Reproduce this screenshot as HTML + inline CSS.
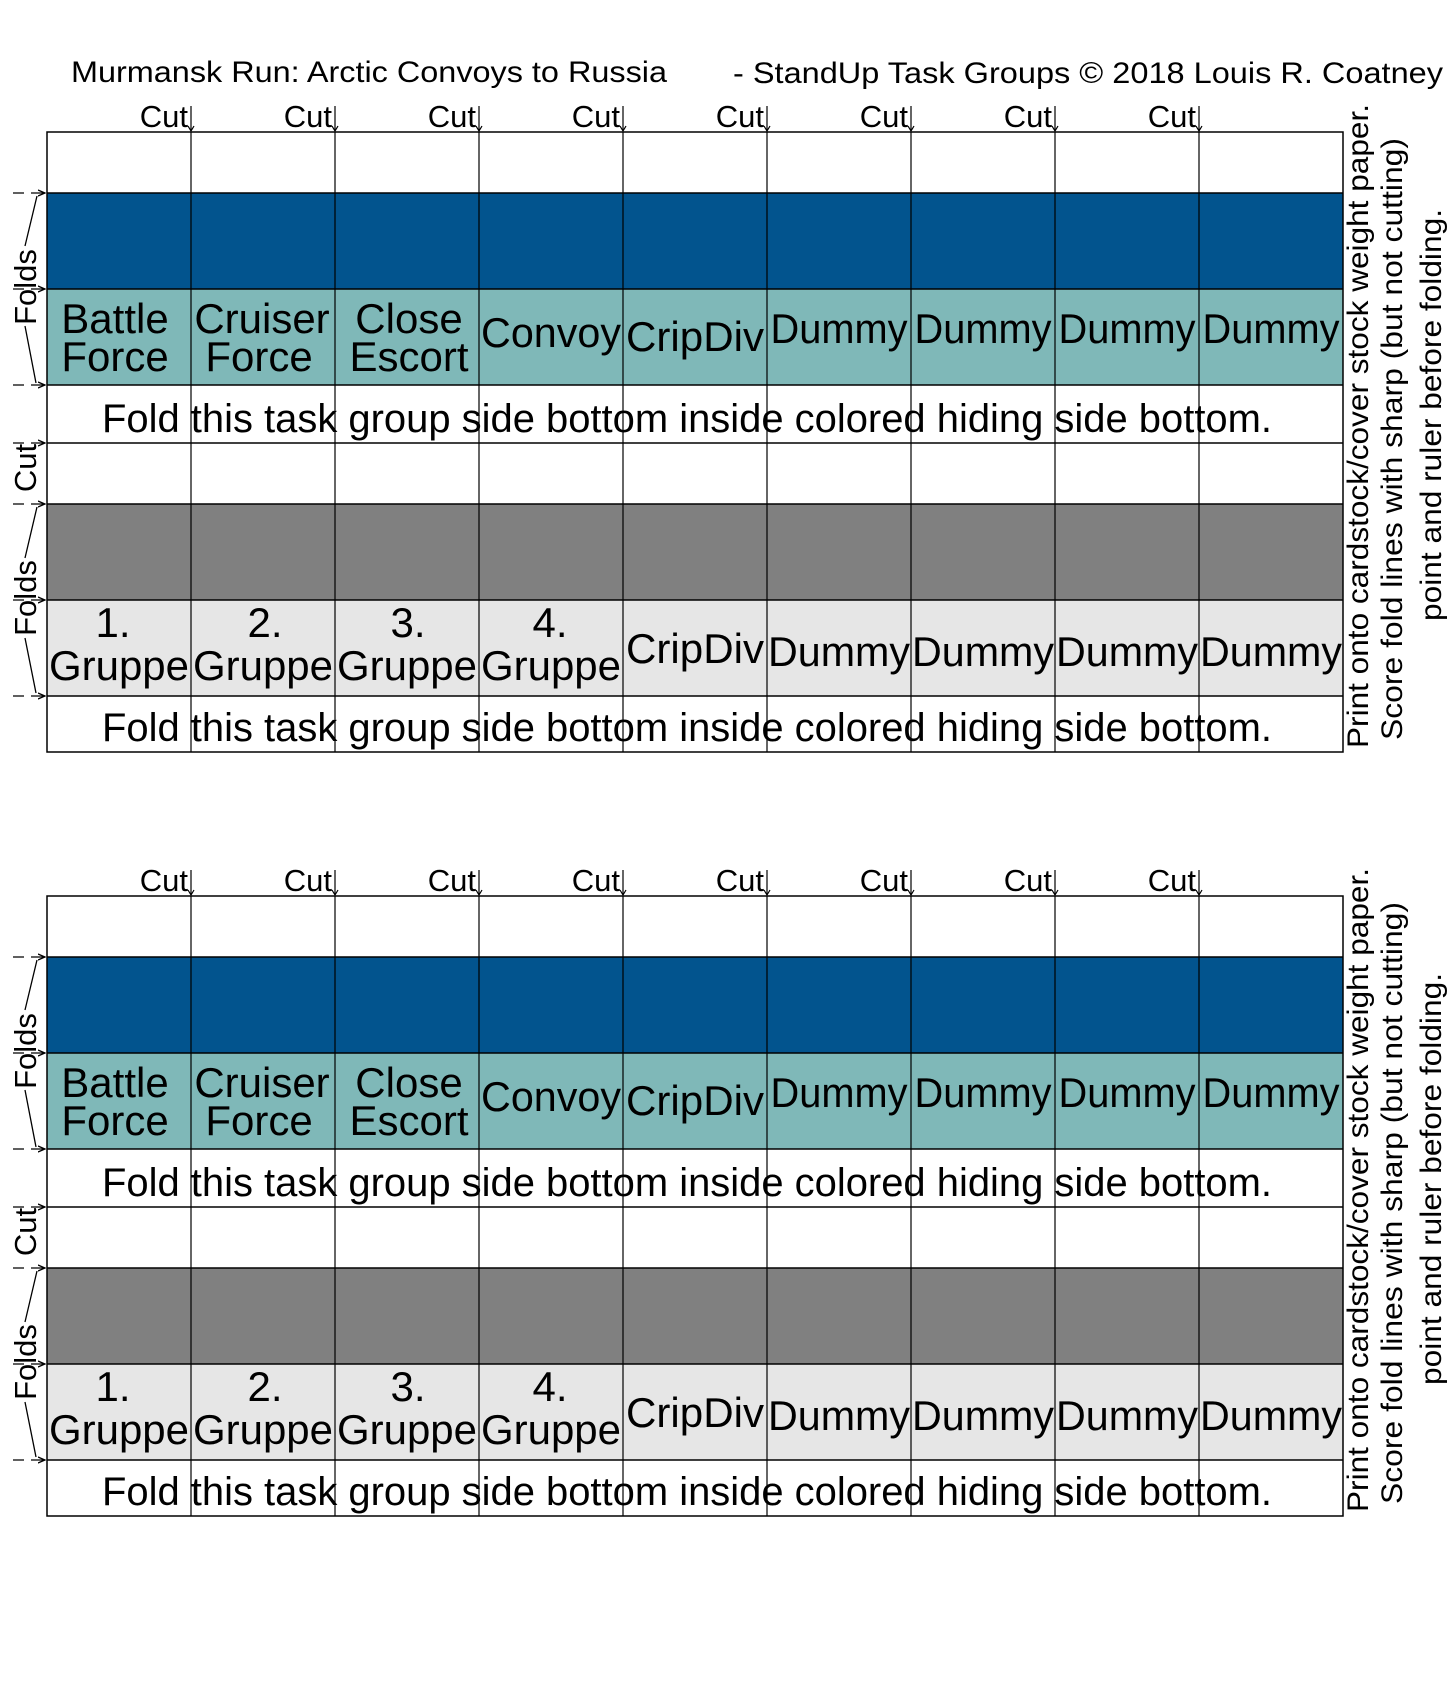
<!DOCTYPE html>
<html><head><meta charset="utf-8"><style>
html,body{margin:0;padding:0;background:#fff}
svg{display:block}
text{font-family:"Liberation Sans",sans-serif;fill:#000}
</style></head><body>
<svg width="1451" height="1688" viewBox="0 0 1451 1688" xmlns="http://www.w3.org/2000/svg">
<defs>
<marker id="ar" markerWidth="8" markerHeight="8" refX="7" refY="4" orient="auto" markerUnits="userSpaceOnUse"><path d="M0,1 L7,4 L0,7" fill="none" stroke="#000" stroke-width="1.3"/></marker>
<g id="tbl">
  <rect x="47" y="193" width="1296" height="96" fill="#02548e"/>
  <rect x="47" y="289" width="1296" height="96" fill="#7fb8b8"/>
  <rect x="47" y="504" width="1296" height="96" fill="#808080"/>
  <rect x="47" y="600" width="1296" height="96" fill="#e6e6e6"/>
  <g stroke="#000" stroke-width="1.5" fill="none">
    <rect x="47" y="132" width="1296" height="620"/>
    <path d="M47 193H1343M47 289H1343M47 385H1343M47 443H1343M47 504H1343M47 600H1343M47 696H1343"/>
    <path d="M191 132V752M335 132V752M479 132V752M623 132V752M767 132V752M911 132V752M1055 132V752M1199 132V752" stroke-width="1.2"/>
  </g>
  <g font-size="31" text-anchor="end">
    <text x="188" y="127">Cut</text><text x="332" y="127">Cut</text><text x="476" y="127">Cut</text><text x="620" y="127">Cut</text><text x="764" y="127">Cut</text><text x="908" y="127">Cut</text><text x="1052" y="127">Cut</text><text x="1196" y="127">Cut</text>
  </g>
  <g stroke="#000" stroke-width="1.2">
    <path d="M191 106V131M335 106V131M479 106V131M623 106V131M767 106V131M911 106V131M1055 106V131M1199 106V131"/>
    <path d="M188 126L191 131L194 126M332 126L335 131L338 126M476 126L479 131L482 126M620 126L623 131L626 126M764 126L767 131L770 126M908 126L911 131L914 126M1052 126L1055 131L1058 126M1196 126L1199 131L1202 126" fill="none"/>
  </g>
  <g stroke="#000" stroke-width="1.3" fill="none">
    <path d="M13 193H24M31 193H45" marker-end="url(#ar)"/>
    <path d="M13 289H24M31 289H45" marker-end="url(#ar)"/>
    <path d="M13 385H24M31 385H45" marker-end="url(#ar)"/>
    <path d="M13 443H24M31 443H45" marker-end="url(#ar)"/>
    <path d="M13 504H24M31 504H45" marker-end="url(#ar)"/>
    <path d="M13 600H24M31 600H45" marker-end="url(#ar)"/>
    <path d="M13 696H24M31 696H45" marker-end="url(#ar)"/>
    <path d="M37 196L25 246M25 326L36 383"/>
    <path d="M37 507L25 558M25 638L36 693"/>
  </g>
  <g font-size="31" text-anchor="middle">
    <text transform="translate(36,287) rotate(-90)">Folds</text>
    <text transform="translate(36,468) rotate(-90)">Cut</text>
    <text transform="translate(36,598) rotate(-90)">Folds</text>
  </g>
  <g font-size="42" text-anchor="middle">
    <text x="115" y="333">Battle</text><text x="115" y="371">Force</text>
    <text x="262" y="333">Cruiser</text><text x="259" y="371">Force</text>
    <text x="409" y="333">Close</text><text x="409" y="371">Escort</text>
    <text x="551" y="347" textLength="140" lengthAdjust="spacingAndGlyphs">Convoy</text>
    <text x="695" y="351" textLength="138" lengthAdjust="spacingAndGlyphs">CripDiv</text>
    <text x="839" y="343" textLength="137" lengthAdjust="spacingAndGlyphs">Dummy</text>
    <text x="983" y="343" textLength="137" lengthAdjust="spacingAndGlyphs">Dummy</text>
    <text x="1127" y="343" textLength="137" lengthAdjust="spacingAndGlyphs">Dummy</text>
    <text x="1271" y="343" textLength="137" lengthAdjust="spacingAndGlyphs">Dummy</text>
    <text x="113" y="637">1.</text><text x="265" y="637">2.</text><text x="408" y="637">3.</text><text x="550" y="637">4.</text>
    <text x="119" y="680" textLength="140" lengthAdjust="spacingAndGlyphs">Gruppe</text>
    <text x="263" y="680" textLength="140" lengthAdjust="spacingAndGlyphs">Gruppe</text>
    <text x="407" y="680" textLength="140" lengthAdjust="spacingAndGlyphs">Gruppe</text>
    <text x="551" y="680" textLength="140" lengthAdjust="spacingAndGlyphs">Gruppe</text>
    <text x="695" y="663" textLength="138" lengthAdjust="spacingAndGlyphs">CripDiv</text>
    <text x="839" y="666" textLength="142" lengthAdjust="spacingAndGlyphs">Dummy</text>
    <text x="983" y="666" textLength="142" lengthAdjust="spacingAndGlyphs">Dummy</text>
    <text x="1127" y="666" textLength="142" lengthAdjust="spacingAndGlyphs">Dummy</text>
    <text x="1271" y="666" textLength="142" lengthAdjust="spacingAndGlyphs">Dummy</text>
  </g>
  <g font-size="40">
    <text x="102" y="432" textLength="1170" lengthAdjust="spacingAndGlyphs">Fold this task group side bottom inside colored hiding side bottom.</text>
    <text x="102" y="741" textLength="1170" lengthAdjust="spacingAndGlyphs">Fold this task group side bottom inside colored hiding side bottom.</text>
  </g>
  <g font-size="30">
    <text transform="translate(1368,748) rotate(-90)" textLength="644" lengthAdjust="spacingAndGlyphs">Print onto cardstock/cover stock weight paper.</text>
    <text transform="translate(1402,740) rotate(-90)" textLength="602" lengthAdjust="spacingAndGlyphs">Score fold lines with sharp (but not cutting)</text>
    <text transform="translate(1441,621) rotate(-90)" textLength="412" lengthAdjust="spacingAndGlyphs">point and ruler before folding.</text>
  </g>
</g>
</defs>
<text x="71" y="82" font-size="30" textLength="596" lengthAdjust="spacingAndGlyphs">Murmansk Run:  Arctic Convoys to Russia</text>
<text x="733" y="83" font-size="30" textLength="710" lengthAdjust="spacingAndGlyphs">- StandUp Task Groups  © 2018 Louis R. Coatney</text>
<use href="#tbl"/>
<use href="#tbl" transform="translate(0,764)"/>
</svg>
</body></html>
